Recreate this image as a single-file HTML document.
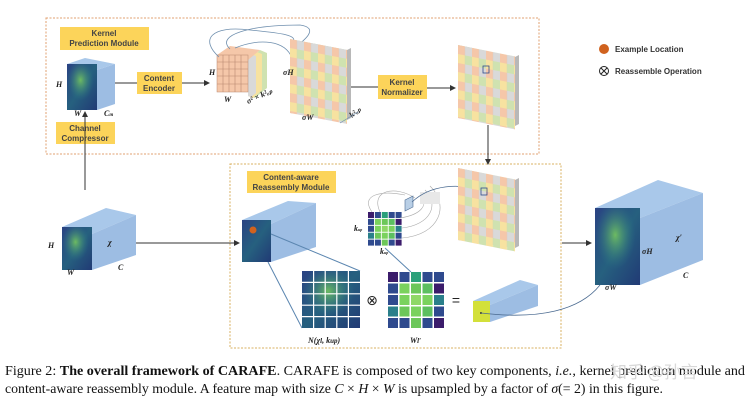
<!DOCTYPE html>
<html><head><meta charset="utf-8"><style>
html,body{margin:0;padding:0;background:#fff;}
svg{display:block;}
.lb{font-family:"Liberation Sans",sans-serif;font-size:8px;font-weight:bold;fill:#444;text-anchor:middle;}
.it{font-family:"Liberation Serif",serif;font-style:italic;font-weight:bold;font-size:8px;fill:#222;}
.cap{font-family:"Liberation Serif",serif;font-size:14px;fill:#111;}
</style></head><body>
<svg width="754" height="402" viewBox="0 0 754 402" xmlns="http://www.w3.org/2000/svg">
<defs>
<linearGradient id="hm" x1="0" y1="0" x2="1" y2="1">
<stop offset="0" stop-color="#2a4283"/><stop offset="0.5" stop-color="#26607f"/><stop offset="1" stop-color="#213a75"/></linearGradient>
<radialGradient id="blob" cx="0.45" cy="0.35" r="0.45"><stop offset="0" stop-color="#7fd35a" stop-opacity="0.8"/><stop offset="1" stop-color="#2a7f8a" stop-opacity="0"/></radialGradient>
<pattern id="chk" width="14" height="18" patternUnits="userSpaceOnUse">
<rect width="7" height="9" fill="#f5c7a9"/><rect x="7" width="7" height="9" fill="#d9d9d9"/>
<rect y="9" width="7" height="9" fill="#f7e2a0"/><rect x="7" y="9" width="7" height="9" fill="#cfe2b0"/></pattern>
<marker id="ar" markerWidth="6" markerHeight="6" refX="5" refY="3" orient="auto"><path d="M0,0 L6,3 L0,6 z" fill="#333"/></marker>
</defs>

<rect x="46" y="18" width="493" height="136" fill="none" stroke="#e0a070" stroke-width="1" stroke-dasharray="2,1.5"/>
<rect x="230" y="164" width="331" height="184" fill="none" stroke="#d8b060" stroke-width="1" stroke-dasharray="2,1.5"/>

<rect x="60" y="27" width="89" height="23" fill="#fcd45a"/>
<text class="lb" x="104" y="36">Kernel</text><text class="lb" x="104" y="46">Prediction Module</text>
<rect x="137" y="72" width="45" height="22" fill="#fcd45a"/>
<text class="lb" x="159" y="81">Content</text><text class="lb" x="159" y="91">Encoder</text>
<rect x="56" y="122" width="59" height="22" fill="#fcd45a"/>
<text class="lb" x="85" y="131">Channel</text><text class="lb" x="85" y="141">Compressor</text>
<rect x="378" y="75" width="49" height="24" fill="#fcd45a"/>
<text class="lb" x="402" y="85">Kernel</text><text class="lb" x="402" y="95">Normalizer</text>
<rect x="247" y="171" width="89" height="22" fill="#fcd45a"/>
<text class="lb" x="291" y="180">Content-aware</text><text class="lb" x="291" y="190">Reassembly Module</text>

<polygon points="67,64 85,58 115,64 97,70" fill="#a9c8ea"/>
<polygon points="97,70 115,64 115,104 97,110" fill="#9dbde3"/>
<rect x="67" y="64" width="30" height="46" fill="url(#hm)"/>
<rect x="67" y="64" width="30" height="46" fill="url(#blob)"/>
<text class="it" x="56" y="87">H</text><text class="it" x="74" y="116">W</text><text class="it" x="104" y="116">C<tspan font-size="5">m</tspan></text>

<line x1="115" y1="83" x2="137" y2="83" stroke="#333"/>
<line x1="182" y1="83" x2="209" y2="83" stroke="#333" marker-end="url(#ar)"/>
<line x1="345" y1="87" x2="378" y2="87" stroke="#333"/>
<line x1="427" y1="88" x2="455" y2="88" stroke="#333" marker-end="url(#ar)"/>
<line x1="85" y1="190" x2="85" y2="112" stroke="#333" marker-end="url(#ar)"/>
<line x1="488" y1="125" x2="488" y2="164" stroke="#333" marker-end="url(#ar)"/>

<polygon points="248,60 260,50 267,53 267,88 255,98 248,96" fill="#cfe2b0"/>
<polygon points="248,60 257,52 262,54 262,90 253,98 248,96" fill="#f7e2a0"/>
<polygon points="248,60 253,55 256,56 256,93 251,97 248,96" fill="#d9d9d9"/>
<polygon points="217,55 230,46 260,50 248,60" fill="#f5c7a9"/>
<rect x="217" y="55" width="31" height="37" fill="#f5c7a9" stroke="#b98870" stroke-width="0.5"/>
<g stroke="#b98870" stroke-width="0.6">
<line x1="223" y1="55" x2="223" y2="92"/><line x1="229" y1="55" x2="229" y2="92"/><line x1="235" y1="55" x2="235" y2="92"/><line x1="241" y1="55" x2="241" y2="92"/>
<line x1="217" y1="62" x2="248" y2="62"/><line x1="217" y1="69" x2="248" y2="69"/><line x1="217" y1="76" x2="248" y2="76"/><line x1="217" y1="84" x2="248" y2="84"/></g>
<text class="it" x="209" y="75">H</text><text class="it" x="224" y="102">W</text>
<text class="it" x="248" y="104" transform="rotate(-25 248 104)">σ² × k²ᵤₚ</text>
<path d="M219,57 C200,40 210,25 250,30 C280,33 300,35 292,43 M230,49 C215,35 250,25 300,25 C320,28 305,40 292,50 M235,48 C260,38 285,40 292,58" fill="none" stroke="#6f8fae" stroke-width="0.8"/>

<polygon points="290,39 347,50 351,48 351,118 347,120 290,113" fill="#b8b8b8"/>
<g transform="matrix(1,0.19,0,1,290,39)"><rect width="57" height="74" fill="url(#chk)"/></g>
<text class="it" x="283" y="75">σH</text><text class="it" x="302" y="120">σW</text>
<text class="it" x="352" y="118" font-size="6" transform="rotate(-40 352 118)">k²ᵤₚ</text>
<line x1="340" y1="123" x2="358" y2="112" stroke="#6f8fae" stroke-width="0.7"/>

<polygon points="458,45 515,57 519,55 519,124 515,126 458,118" fill="#b8b8b8"/>
<g transform="matrix(1,0.2,0,1,458,45)"><rect width="57" height="73" fill="url(#chk)"/></g>
<rect x="483" y="66" width="6" height="7" fill="none" stroke="#2f4a8e" stroke-width="0.8"/>

<circle cx="604" cy="49" r="5" fill="#d0621e"/>
<text class="lb" x="615" y="52" style="text-anchor:start;fill:#333">Example Location</text>
<circle cx="604" cy="71" r="4.5" fill="none" stroke="#222"/>
<path d="M601,68 L607,74 M607,68 L601,74" stroke="#222"/>
<text class="lb" x="615" y="74" style="text-anchor:start;fill:#333">Reassemble Operation</text>

<polygon points="62,227 106,208 136,215 92,234" fill="#a9c8ea"/>
<polygon points="92,234 136,215 136,255 92,270" fill="#9dbde3"/>
<rect x="62" y="227" width="30" height="43" fill="url(#hm)"/>
<rect x="62" y="227" width="30" height="43" fill="url(#blob)"/>
<text class="it" x="48" y="248">H</text><text class="it" x="67" y="275">W</text>
<text class="it" x="108" y="245" font-size="12">χ</text><text class="it" x="118" y="270">C</text>
<line x1="136" y1="243" x2="239" y2="243" stroke="#333" marker-end="url(#ar)"/>

<polygon points="242,220 288,201 316,203 271,224" fill="#a9c8ea"/>
<polygon points="271,224 316,203 316,247 271,262" fill="#9dbde3"/>
<rect x="242" y="220" width="29" height="42" fill="url(#hm)"/>
<circle cx="253" cy="230" r="3.5" fill="#d0621e"/>
<line x1="271" y1="234" x2="360" y2="271" stroke="#5b86b0"/>
<line x1="268" y1="262" x2="302" y2="328" stroke="#5b86b0"/>

<rect x="302" y="271" width="58" height="57" fill="url(#hm)"/>
<rect x="302" y="271" width="58" height="57" fill="url(#blob)"/>
<g stroke="#fff" stroke-width="1.2">
<line x1="313.6" y1="271" x2="313.6" y2="328"/><line x1="325.2" y1="271" x2="325.2" y2="328"/><line x1="336.8" y1="271" x2="336.8" y2="328"/><line x1="348.4" y1="271" x2="348.4" y2="328"/>
<line x1="302" y1="282.4" x2="360" y2="282.4"/><line x1="302" y1="293.8" x2="360" y2="293.8"/><line x1="302" y1="305.2" x2="360" y2="305.2"/><line x1="302" y1="316.6" x2="360" y2="316.6"/></g>
<text class="it" x="308" y="343" font-size="10">N(χ<tspan font-size="7">l</tspan>, k<tspan font-size="7">up</tspan>)</text>
<text x="372" y="305" font-family="DejaVu Sans,sans-serif" font-size="14" text-anchor="middle" fill="#222">⊗</text>

<g id="wg">
<rect x="388" y="272" width="10" height="10" fill="#3b1c6b"/><rect x="399.5" y="272" width="10" height="10" fill="#2f4a8e"/><rect x="411" y="272" width="10" height="10" fill="#2aa07a"/><rect x="422.5" y="272" width="10" height="10" fill="#2f4a8e"/><rect x="434" y="272" width="10" height="10" fill="#2f4a8e"/>
<rect x="388" y="283.5" width="10" height="10" fill="#2f4a8e"/><rect x="399.5" y="283.5" width="10" height="10" fill="#7ad25e"/><rect x="411" y="283.5" width="10" height="10" fill="#6cc75a"/><rect x="422.5" y="283.5" width="10" height="10" fill="#5cbf60"/><rect x="434" y="283.5" width="10" height="10" fill="#3b1c6b"/>
<rect x="388" y="295" width="10" height="10" fill="#2f4a8e"/><rect x="399.5" y="295" width="10" height="10" fill="#7ad25e"/><rect x="411" y="295" width="10" height="10" fill="#8fd867"/><rect x="422.5" y="295" width="10" height="10" fill="#7ad25e"/><rect x="434" y="295" width="10" height="10" fill="#2a7f8a"/>
<rect x="388" y="306.5" width="10" height="10" fill="#2a7f8a"/><rect x="399.5" y="306.5" width="10" height="10" fill="#6cc75a"/><rect x="411" y="306.5" width="10" height="10" fill="#7ad25e"/><rect x="422.5" y="306.5" width="10" height="10" fill="#5cbf60"/><rect x="434" y="306.5" width="10" height="10" fill="#2f4a8e"/>
<rect x="388" y="318" width="10" height="10" fill="#2f4a8e"/><rect x="399.5" y="318" width="10" height="10" fill="#2f4a8e"/><rect x="411" y="318" width="10" height="10" fill="#6cc75a"/><rect x="422.5" y="318" width="10" height="10" fill="#2f4a8e"/><rect x="434" y="318" width="10" height="10" fill="#3b1c6b"/>
</g>
<text class="it" x="410" y="343" font-size="11">W<tspan font-size="7">l′</tspan></text>
<text x="456" y="305" font-family="Liberation Sans,sans-serif" font-size="14" text-anchor="middle" fill="#222">=</text>

<g transform="translate(368,212) scale(0.6)">
<use href="#wg" transform="translate(-388,-272)"/></g>
<text class="it" x="354" y="231" font-size="6">k<tspan font-size="4">up</tspan></text>
<text class="it" x="380" y="254" font-size="6">k<tspan font-size="4">up</tspan></text>
<line x1="385" y1="248" x2="411" y2="272" stroke="#5b86b0"/>
<path d="M372,212 C360,195 380,190 405,195 M380,212 C370,190 395,185 415,198 M400,218 C420,215 430,205 420,195 M402,228 C430,225 440,205 425,190 M402,238 C440,235 450,205 430,186" fill="none" stroke="#aaa" stroke-width="0.6"/>
<rect x="420" y="192" width="20" height="12" fill="#e8e8e8"/>
<polygon points="405,200 413,196 413,207 405,211" fill="#b9cfe6" stroke="#4a6a90" stroke-width="0.6"/>
<path d="M412,202 C430,185 460,182 484,192" fill="none" stroke="#4a6a90" stroke-width="0.8"/>

<polygon points="458,168 515,180 519,178 519,246 515,248 458,240" fill="#b8b8b8"/>
<g transform="matrix(1,0.2,0,1,458,168)"><rect width="57" height="72" fill="url(#chk)"/></g>
<rect x="481" y="188" width="6" height="7" fill="none" stroke="#2f4a8e" stroke-width="0.8"/>

<polygon points="473,301 520,280 538,285 490,305" fill="#a9c8ea"/>
<polygon points="490,305 538,285 538,306 490,322" fill="#9dbde3"/>
<rect x="473" y="301" width="17" height="21" fill="#d3e03a"/>
<circle cx="481" cy="313" r="1" fill="#333"/>
<path d="M481,313 C540,320 580,310 600,285" fill="none" stroke="#4a6a90" stroke-width="0.8"/>

<line x1="562" y1="243" x2="591" y2="243" stroke="#333" marker-end="url(#ar)"/>
<polygon points="595,208 658,180 703,193 640,218" fill="#a9c8ea"/>
<polygon points="640,218 703,193 703,260 640,285" fill="#9dbde3"/>
<rect x="595" y="208" width="45" height="77" fill="url(#hm)"/>
<rect x="595" y="208" width="45" height="77" fill="url(#blob)"/>
<text class="it" x="642" y="254">σH</text><text class="it" x="605" y="290">σW</text>
<text class="it" x="676" y="240" font-size="12">χ′</text><text class="it" x="683" y="278">C</text>

<text class="cap" x="5" y="375" textLength="740" lengthAdjust="spacingAndGlyphs">Figure 2: <tspan font-weight="bold">The overall framework of CARAFE</tspan>. CARAFE is composed of two key components, <tspan font-style="italic">i.e.</tspan>, kernel prediction module and</text>
<text class="cap" x="5" y="393" textLength="658" lengthAdjust="spacingAndGlyphs">content-aware reassembly module. A feature map with size <tspan font-style="italic">C</tspan> × <tspan font-style="italic">H</tspan> × <tspan font-style="italic">W</tspan> is upsampled by a factor of <tspan font-style="italic">σ</tspan>(= 2) in this figure.</text>
<text x="610" y="378" font-family="Noto Sans CJK SC,sans-serif" font-size="17" fill="#d8d8d8">知乎 @孙言</text>
</svg>
</body></html>
